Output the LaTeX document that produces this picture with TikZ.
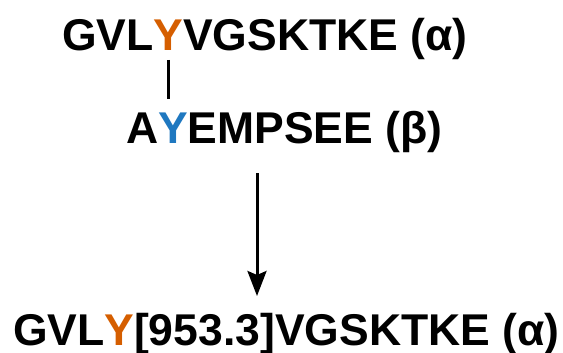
\documentclass[tikz,border=0pt]{standalone}
\usepackage{fontspec}
\setmainfont{Liberation Sans}
\usetikzlibrary{arrows.meta}
\definecolor{tyrorange}{HTML}{D55E00}
\definecolor{tyrblue}{HTML}{1F78C0}
\tikzset{
  seq/.style={inner sep=0pt, outer sep=0pt, font=\fontsize{44.5}{52}\selectfont\bfseries, anchor=base west},
  link/.style={line width=2.4pt, black},
  arr/.style={line width=3pt, -{Stealth[length=25pt,width=19pt,inset=4pt]}}
}
\begin{document}
\begin{tikzpicture}[x=1pt,y=1pt]
\useasboundingbox (0,0) rectangle (563,-353);
% line 1
\node[seq] (a1) at (62,-50.5) {GVL};
\node[seq, text=tyrorange] (a1y) at (a1.base east) {Y};
\node[seq] (a1r) at (a1y.base east) {VGSKTKE (α)};
% line 2
\node[seq] (b1) at (126,-143) {A};
\node[seq, text=tyrblue] (b1y) at (b1.base east) {Y};
\node[seq] (b1r) at (b1y.base east) {EMPSEE (β)};
% line 3
\node[seq] (c1) at (13,-345) {GVL};
\node[seq, text=tyrorange] (c1y) at (c1.base east) {Y};
\node[seq] (c1r) at (c1y.base east) {[953.3]VGSKTKE (α)};
% crosslink
\coordinate (l1) at ([yshift=-9.5pt]a1y.south);
\draw[link] (l1) -- (l1 |- 0,-99);
% arrow
\coordinate (s) at (257,-173);
\coordinate (t) at (257,-296);
\draw[arr] (s) -- (t);
\end{tikzpicture}
\end{document}
